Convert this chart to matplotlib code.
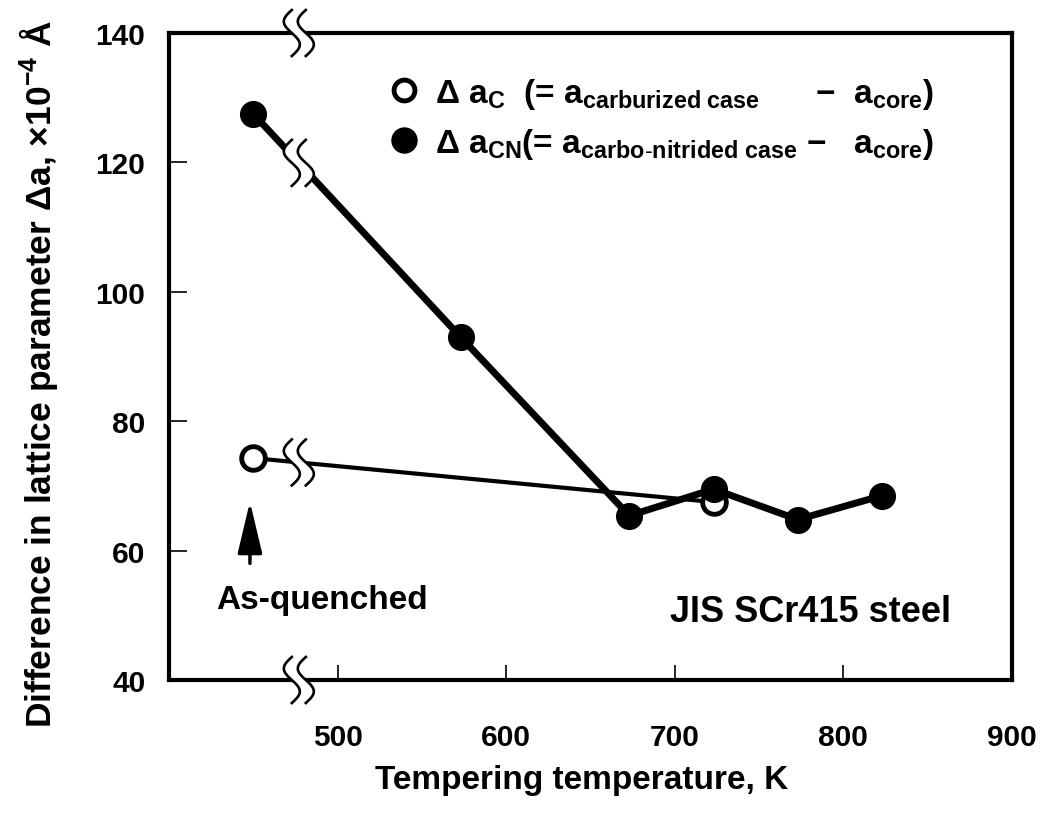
import numpy as np
import matplotlib
matplotlib.use('Agg')
import matplotlib.pyplot as plt
import matplotlib.transforms as mtransforms
from matplotlib.lines import Line2D

plt.rcParams['font.family'] = ['Liberation Sans', 'DejaVu Sans']
plt.rcParams['mathtext.fontset'] = 'custom'
plt.rcParams['mathtext.rm'] = 'Liberation Sans'
plt.rcParams['mathtext.it'] = 'Liberation Sans'
plt.rcParams['mathtext.bf'] = 'Liberation Sans:bold'
plt.rcParams['mathtext.default'] = 'regular'

# first point of each series is the as-quenched state, drawn left of the axis break
temp_cn = [450, 573, 673, 723, 773, 823]
da_cn = [127.5, 93.0, 65.4, 69.5, 64.8, 68.5]
temp_c = [450, 723]
da_c = [74.3, 67.5]
x_break = 477
xticks = [500, 600, 700, 800, 900]
yticks = [40, 60, 80, 100, 120, 140]


def draw_break(ax, x, y, lw=1.9):
  # two S-shaped strokes with white between them (cuts the line/spine)
  t = np.linspace(-1, 1, 60)
  yy = 23 * t
  xx = -8 * np.sin(np.pi * t)
  left = xx - 7
  right = xx + 7
  trans = mtransforms.ScaledTranslation(x, y, ax.transData)
  poly = np.column_stack([np.r_[left, right[::-1]], np.r_[yy, yy[::-1]]])
  ax.add_artist(plt.Polygon(poly, closed=True, fc='white', ec='none',
                            transform=trans, clip_on=False, zorder=5))
  for xs in (left, right):
    ax.add_artist(Line2D(xs, yy, color='black', lw=lw, transform=trans,
                         clip_on=False, zorder=6))


fig = plt.figure(figsize=(10.56, 8.28), dpi=100)
ax = fig.add_axes([169 / 1056, 1 - 681 / 828, 843 / 1056, 647 / 828])
ax.set_xlim(400, 900)
ax.set_ylim(40, 140)

ax.plot(temp_c, da_c, color='black', lw=3, marker='o', ms=17,
        mfc='white', mec='black', mew=3.5, zorder=3)
ax.plot(temp_cn, da_cn, color='black', lw=5, marker='o', ms=18.5,
        mfc='black', mec='black', zorder=4)

# breaks on the lines and on top/bottom spines
draw_break(ax, x_break, np.interp(x_break, temp_cn, da_cn))
draw_break(ax, x_break, np.interp(x_break, temp_c, da_c))
draw_break(ax, x_break, 40)
draw_break(ax, x_break, 140)

ax.set_xticks(xticks)
ax.set_yticks(yticks)
ax.set_xticklabels([str(v) for v in xticks])
ax.set_yticklabels([str(v) for v in yticks])
ax.tick_params(axis='x', direction='in', length=11, width=1.2, pad=31,
               labelsize=21.5)
ax.tick_params(axis='y', direction='in', length=13, width=1.2, pad=17,
               labelsize=21.5)
for lab in ax.get_xticklabels() + ax.get_yticklabels():
  lab.set_fontweight('bold')
for sp in ax.spines.values():
  sp.set_linewidth(3)

ax.set_xlabel('Tempering temperature, K', fontsize=24, fontweight='bold')
ax.xaxis.set_label_coords(0.49, -0.13)
ax.set_ylabel('Difference in lattice parameter $\\Delta$a, $\\times$10$^{-4}$ Å',
              fontsize=25.5, fontweight='bold')
ax.yaxis.set_label_coords(-0.129, 0.475)

# legend
h_open = Line2D([], [], ls='none', marker='o', ms=15, mfc='white', mec='black', mew=3.5)
h_fill = Line2D([], [], ls='none', marker='o', ms=18, mfc='black', mec='black')
lab_c = ('$\\Delta$ a$_{C}$  (= a$_{carburized\\ case}$' + '      '
         + '$-$  a$_{core}$)')
lab_cn = '$\\Delta$ a$_{CN}$(= a$_{carbo\\text{-}nitrided\\ case}$ $-$   a$_{core}$)'
ax.legend([h_open, h_fill], [lab_c, lab_cn], loc='upper left',
          bbox_to_anchor=(0.262, 0.934), frameon=False,
          handlelength=0.85, handletextpad=0.5, labelspacing=0.45,
          borderaxespad=0, borderpad=0, prop={'weight': 'bold', 'size': 24})

# arrow and labels
ax.annotate('', xy=(temp_c[0] - 2, 68.0), xytext=(temp_c[0] - 2, 57.6),
            arrowprops=dict(arrowstyle='-|>,head_length=1.6,head_width=0.38',
                            mutation_scale=20, lw=2.5, color='black'))
ax.text(491, 52.4, 'As-quenched', fontsize=24, fontweight='bold',
        ha='center', va='center')
ax.text(697, 50.6, 'JIS SCr415 steel', fontsize=26, fontweight='bold',
        ha='left', va='center')

fig.savefig('out.png', dpi=100)
